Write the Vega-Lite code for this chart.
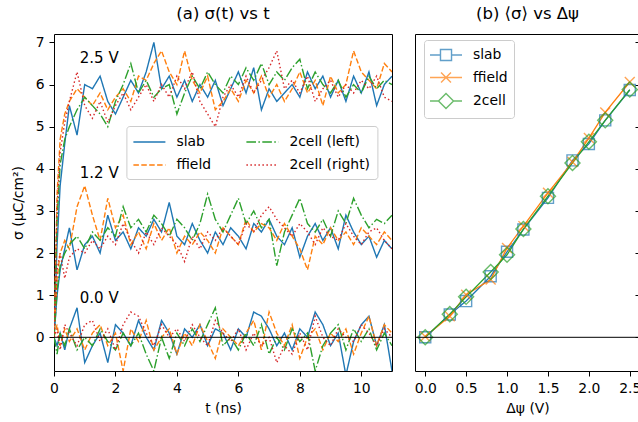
{
"$schema": "https://vega.github.io/schema/vega-lite/v6.json",
"background": "white",
"padding": {"left": 10, "top": 5, "right": 0, "bottom": 0},
"spacing": 15,
"config": {
  "font": "DejaVu Sans",
  "view": {"stroke": "black", "strokeWidth": 1},
  "axis": {"labelFont": "DejaVu Sans", "labelFontSize": 13.9, "labelColor": "black", "titleFont": "DejaVu Sans", "titleFontSize": 13.9, "titleFontWeight": "normal", "titleColor": "black", "tickColor": "black", "tickSize": 5, "tickWidth": 1, "domain": false, "grid": false, "labelPadding": 4, "labelFlush": false, "labelOverlap": false},
  "title": {"font": "DejaVu Sans", "fontSize": 16.5, "fontWeight": "normal", "color": "black", "frame": "group", "anchor": "middle", "baseline": "alphabetic", "offset": 12}
},
"resolve": {"scale": {"color": "independent", "strokeDash": "independent", "shape": "independent", "x": "independent", "y": "independent"}, "legend": {"color": "independent", "strokeDash": "independent", "shape": "independent"}},
"datasets": {
"ann": [{"t":0.84,"y":6.63,"label":"2.5 V"},{"t":0.84,"y":3.9,"label":"1.2 V"},{"t":0.84,"y":0.93,"label":"0.0 V"}],
"mean": [
{"m":"slab","x":0,"y":0.0},{"m":"slab","x":0.3,"y":0.54},{"m":"slab","x":0.5,"y":0.86},{"m":"slab","x":0.8,"y":1.45},{"m":"slab","x":1.0,"y":2.03},{"m":"slab","x":1.2,"y":2.56},{"m":"slab","x":1.5,"y":3.31},{"m":"slab","x":1.8,"y":4.2},{"m":"slab","x":2.0,"y":4.59},{"m":"slab","x":2.2,"y":5.15},{"m":"slab","x":2.5,"y":5.87},
{"m":"ffield","x":0,"y":0.02},{"m":"ffield","x":0.3,"y":0.5},{"m":"ffield","x":0.5,"y":1.01},{"m":"ffield","x":0.8,"y":1.37},{"m":"ffield","x":1.0,"y":2.12},{"m":"ffield","x":1.2,"y":2.64},{"m":"ffield","x":1.5,"y":3.43},{"m":"ffield","x":1.8,"y":4.16},{"m":"ffield","x":2.0,"y":4.73},{"m":"ffield","x":2.2,"y":5.34},{"m":"ffield","x":2.5,"y":6.06},
{"m":"2cell","x":0,"y":0.0},{"m":"2cell","x":0.3,"y":0.55},{"m":"2cell","x":0.5,"y":0.96},{"m":"2cell","x":0.8,"y":1.55},{"m":"2cell","x":1.0,"y":1.96},{"m":"2cell","x":1.2,"y":2.57},{"m":"2cell","x":1.5,"y":3.35},{"m":"2cell","x":1.8,"y":4.14},{"m":"2cell","x":2.0,"y":4.64},{"m":"2cell","x":2.2,"y":5.15},{"m":"2cell","x":2.5,"y":5.88}
],
"ts": [
{"s":"a","v":2,"t":0,"y":0},{"s":"a","v":2,"t":0.1,"y":2.2},{"s":"a","v":2,"t":0.2,"y":3.6},{"s":"a","v":2,"t":0.35,"y":4.6},{"s":"a","v":2,"t":0.5,"y":5.5},{"s":"a","v":2,"t":0.75,"y":4.8},{"s":"a","v":2,"t":1,"y":6.0},{"s":"a","v":2,"t":1.25,"y":5.9},{"s":"a","v":2,"t":1.5,"y":6.2},{"s":"a","v":2,"t":1.75,"y":5.6},{"s":"a","v":2,"t":2,"y":5.3},{"s":"a","v":2,"t":2.25,"y":5.7},{"s":"a","v":2,"t":2.5,"y":6.1},{"s":"a","v":2,"t":2.75,"y":5.8},{"s":"a","v":2,"t":3,"y":6.3},{"s":"a","v":2,"t":3.25,"y":7.0},{"s":"a","v":2,"t":3.5,"y":5.9},{"s":"a","v":2,"t":3.75,"y":6.2},{"s":"a","v":2,"t":4,"y":5.7},{"s":"a","v":2,"t":4.25,"y":6.1},{"s":"a","v":2,"t":4.5,"y":5.6},{"s":"a","v":2,"t":4.75,"y":6.0},{"s":"a","v":2,"t":5,"y":5.7},{"s":"a","v":2,"t":5.25,"y":6.1},{"s":"a","v":2,"t":5.5,"y":5.5},{"s":"a","v":2,"t":5.75,"y":5.9},{"s":"a","v":2,"t":6,"y":6.3},{"s":"a","v":2,"t":6.25,"y":5.8},{"s":"a","v":2,"t":6.5,"y":6.4},{"s":"a","v":2,"t":6.75,"y":5.4},{"s":"a","v":2,"t":7,"y":5.9},{"s":"a","v":2,"t":7.25,"y":5.6},{"s":"a","v":2,"t":7.5,"y":5.8},{"s":"a","v":2,"t":7.75,"y":6.0},{"s":"a","v":2,"t":8,"y":5.7},{"s":"a","v":2,"t":8.25,"y":6.3},{"s":"a","v":2,"t":8.5,"y":5.9},{"s":"a","v":2,"t":8.75,"y":6.2},{"s":"a","v":2,"t":9,"y":5.7},{"s":"a","v":2,"t":9.25,"y":6.1},{"s":"a","v":2,"t":9.5,"y":5.6},{"s":"a","v":2,"t":9.75,"y":6.2},{"s":"a","v":2,"t":10,"y":5.8},{"s":"a","v":2,"t":10.25,"y":6.3},{"s":"a","v":2,"t":10.5,"y":5.5},{"s":"a","v":2,"t":10.75,"y":6.0},{"s":"a","v":2,"t":11,"y":6.2},
{"s":"a","v":1,"t":0,"y":0},{"s":"a","v":1,"t":0.1,"y":1.0},{"s":"a","v":1,"t":0.2,"y":1.6},{"s":"a","v":1,"t":0.35,"y":2.1},{"s":"a","v":1,"t":0.5,"y":2.6},{"s":"a","v":1,"t":0.75,"y":1.6},{"s":"a","v":1,"t":1,"y":2.2},{"s":"a","v":1,"t":1.25,"y":2.4},{"s":"a","v":1,"t":1.5,"y":2.0},{"s":"a","v":1,"t":1.75,"y":2.9},{"s":"a","v":1,"t":2,"y":2.3},{"s":"a","v":1,"t":2.25,"y":2.5},{"s":"a","v":1,"t":2.5,"y":2.1},{"s":"a","v":1,"t":2.75,"y":2.6},{"s":"a","v":1,"t":3,"y":2.4},{"s":"a","v":1,"t":3.25,"y":2.8},{"s":"a","v":1,"t":3.5,"y":2.5},{"s":"a","v":1,"t":3.75,"y":3.2},{"s":"a","v":1,"t":4,"y":2.4},{"s":"a","v":1,"t":4.25,"y":2.2},{"s":"a","v":1,"t":4.5,"y":2.7},{"s":"a","v":1,"t":4.75,"y":2.3},{"s":"a","v":1,"t":5,"y":2.0},{"s":"a","v":1,"t":5.25,"y":2.5},{"s":"a","v":1,"t":5.5,"y":2.2},{"s":"a","v":1,"t":5.75,"y":2.6},{"s":"a","v":1,"t":6,"y":2.4},{"s":"a","v":1,"t":6.25,"y":2.1},{"s":"a","v":1,"t":6.5,"y":2.7},{"s":"a","v":1,"t":6.75,"y":2.5},{"s":"a","v":1,"t":7,"y":2.8},{"s":"a","v":1,"t":7.25,"y":2.4},{"s":"a","v":1,"t":7.5,"y":2.2},{"s":"a","v":1,"t":7.75,"y":2.6},{"s":"a","v":1,"t":8,"y":1.9},{"s":"a","v":1,"t":8.25,"y":2.4},{"s":"a","v":1,"t":8.5,"y":2.7},{"s":"a","v":1,"t":8.75,"y":2.3},{"s":"a","v":1,"t":9,"y":2.6},{"s":"a","v":1,"t":9.25,"y":2.1},{"s":"a","v":1,"t":9.5,"y":2.9},{"s":"a","v":1,"t":9.75,"y":2.5},{"s":"a","v":1,"t":10,"y":2.2},{"s":"a","v":1,"t":10.25,"y":2.4},{"s":"a","v":1,"t":10.5,"y":1.9},{"s":"a","v":1,"t":10.75,"y":2.3},{"s":"a","v":1,"t":11,"y":2.1},
{"s":"a","v":0,"t":0,"y":0},{"s":"a","v":0,"t":0.1,"y":-0.2},{"s":"a","v":0,"t":0.2,"y":0.1},{"s":"a","v":0,"t":0.35,"y":-0.3},{"s":"a","v":0,"t":0.5,"y":0.2},{"s":"a","v":0,"t":0.75,"y":0.7},{"s":"a","v":0,"t":1,"y":-0.6},{"s":"a","v":0,"t":1.25,"y":-0.2},{"s":"a","v":0,"t":1.5,"y":0.1},{"s":"a","v":0,"t":1.75,"y":-0.6},{"s":"a","v":0,"t":2,"y":0.3},{"s":"a","v":0,"t":2.25,"y":0.1},{"s":"a","v":0,"t":2.5,"y":-0.2},{"s":"a","v":0,"t":2.75,"y":0.4},{"s":"a","v":0,"t":3,"y":0.0},{"s":"a","v":0,"t":3.25,"y":-0.3},{"s":"a","v":0,"t":3.5,"y":0.4},{"s":"a","v":0,"t":3.75,"y":0.1},{"s":"a","v":0,"t":4,"y":-0.4},{"s":"a","v":0,"t":4.25,"y":0.2},{"s":"a","v":0,"t":4.5,"y":0.0},{"s":"a","v":0,"t":4.75,"y":0.3},{"s":"a","v":0,"t":5,"y":-0.2},{"s":"a","v":0,"t":5.25,"y":0.2},{"s":"a","v":0,"t":5.5,"y":0.1},{"s":"a","v":0,"t":5.75,"y":-0.3},{"s":"a","v":0,"t":6,"y":0.2},{"s":"a","v":0,"t":6.25,"y":0.0},{"s":"a","v":0,"t":6.5,"y":0.6},{"s":"a","v":0,"t":6.75,"y":0.5},{"s":"a","v":0,"t":7,"y":0.2},{"s":"a","v":0,"t":7.25,"y":-0.2},{"s":"a","v":0,"t":7.5,"y":0.1},{"s":"a","v":0,"t":7.75,"y":-0.3},{"s":"a","v":0,"t":8,"y":0.2},{"s":"a","v":0,"t":8.25,"y":0.0},{"s":"a","v":0,"t":8.5,"y":0.6},{"s":"a","v":0,"t":8.75,"y":0.3},{"s":"a","v":0,"t":9,"y":-0.2},{"s":"a","v":0,"t":9.25,"y":0.1},{"s":"a","v":0,"t":9.5,"y":-0.9},{"s":"a","v":0,"t":9.75,"y":-0.1},{"s":"a","v":0,"t":10,"y":0.3},{"s":"a","v":0,"t":10.25,"y":0.5},{"s":"a","v":0,"t":10.5,"y":-0.2},{"s":"a","v":0,"t":10.75,"y":0.3},{"s":"a","v":0,"t":11,"y":-0.8},
{"s":"c","v":2,"t":0,"y":0},{"s":"c","v":2,"t":0.1,"y":3.4},{"s":"c","v":2,"t":0.2,"y":4.7},{"s":"c","v":2,"t":0.35,"y":5.3},{"s":"c","v":2,"t":0.5,"y":5.6},{"s":"c","v":2,"t":0.75,"y":5.9},{"s":"c","v":2,"t":1,"y":5.7},{"s":"c","v":2,"t":1.25,"y":5.5},{"s":"c","v":2,"t":1.5,"y":5.8},{"s":"c","v":2,"t":1.75,"y":5.4},{"s":"c","v":2,"t":2,"y":5.7},{"s":"c","v":2,"t":2.25,"y":5.9},{"s":"c","v":2,"t":2.5,"y":5.6},{"s":"c","v":2,"t":2.75,"y":6.2},{"s":"c","v":2,"t":3,"y":6.1},{"s":"c","v":2,"t":3.25,"y":6.5},{"s":"c","v":2,"t":3.5,"y":6.8},{"s":"c","v":2,"t":3.75,"y":6.3},{"s":"c","v":2,"t":4,"y":6.0},{"s":"c","v":2,"t":4.25,"y":6.8},{"s":"c","v":2,"t":4.5,"y":6.1},{"s":"c","v":2,"t":4.75,"y":5.8},{"s":"c","v":2,"t":5,"y":6.2},{"s":"c","v":2,"t":5.25,"y":5.4},{"s":"c","v":2,"t":5.5,"y":5.6},{"s":"c","v":2,"t":5.75,"y":5.9},{"s":"c","v":2,"t":6,"y":5.6},{"s":"c","v":2,"t":6.25,"y":6.1},{"s":"c","v":2,"t":6.5,"y":5.8},{"s":"c","v":2,"t":6.75,"y":6.2},{"s":"c","v":2,"t":7,"y":5.7},{"s":"c","v":2,"t":7.25,"y":6.0},{"s":"c","v":2,"t":7.5,"y":5.6},{"s":"c","v":2,"t":7.75,"y":5.9},{"s":"c","v":2,"t":8,"y":6.3},{"s":"c","v":2,"t":8.25,"y":5.8},{"s":"c","v":2,"t":8.5,"y":6.1},{"s":"c","v":2,"t":8.75,"y":5.5},{"s":"c","v":2,"t":9,"y":6.2},{"s":"c","v":2,"t":9.25,"y":5.8},{"s":"c","v":2,"t":9.5,"y":6.0},{"s":"c","v":2,"t":9.75,"y":6.8},{"s":"c","v":2,"t":10,"y":6.3},{"s":"c","v":2,"t":10.25,"y":6.1},{"s":"c","v":2,"t":10.5,"y":5.9},{"s":"c","v":2,"t":10.75,"y":6.5},{"s":"c","v":2,"t":11,"y":6.3},
{"s":"c","v":1,"t":0,"y":0},{"s":"c","v":1,"t":0.1,"y":1.4},{"s":"c","v":1,"t":0.2,"y":2.0},{"s":"c","v":1,"t":0.35,"y":2.3},{"s":"c","v":1,"t":0.5,"y":2.1},{"s":"c","v":1,"t":0.75,"y":3.1},{"s":"c","v":1,"t":1,"y":3.6},{"s":"c","v":1,"t":1.25,"y":2.9},{"s":"c","v":1,"t":1.5,"y":2.3},{"s":"c","v":1,"t":1.75,"y":3.3},{"s":"c","v":1,"t":2,"y":2.6},{"s":"c","v":1,"t":2.25,"y":2.9},{"s":"c","v":1,"t":2.5,"y":2.2},{"s":"c","v":1,"t":2.75,"y":2.5},{"s":"c","v":1,"t":3,"y":2.1},{"s":"c","v":1,"t":3.25,"y":2.7},{"s":"c","v":1,"t":3.5,"y":2.3},{"s":"c","v":1,"t":3.75,"y":2.6},{"s":"c","v":1,"t":4,"y":2.0},{"s":"c","v":1,"t":4.25,"y":2.4},{"s":"c","v":1,"t":4.5,"y":2.2},{"s":"c","v":1,"t":4.75,"y":2.5},{"s":"c","v":1,"t":5,"y":2.3},{"s":"c","v":1,"t":5.25,"y":2.0},{"s":"c","v":1,"t":5.5,"y":2.6},{"s":"c","v":1,"t":5.75,"y":2.4},{"s":"c","v":1,"t":6,"y":2.2},{"s":"c","v":1,"t":6.25,"y":2.8},{"s":"c","v":1,"t":6.5,"y":2.5},{"s":"c","v":1,"t":6.75,"y":2.7},{"s":"c","v":1,"t":7,"y":2.6},{"s":"c","v":1,"t":7.25,"y":2.3},{"s":"c","v":1,"t":7.5,"y":2.7},{"s":"c","v":1,"t":7.75,"y":2.4},{"s":"c","v":1,"t":8,"y":2.1},{"s":"c","v":1,"t":8.25,"y":1.6},{"s":"c","v":1,"t":8.5,"y":2.4},{"s":"c","v":1,"t":8.75,"y":2.2},{"s":"c","v":1,"t":9,"y":2.6},{"s":"c","v":1,"t":9.25,"y":2.3},{"s":"c","v":1,"t":9.5,"y":2.5},{"s":"c","v":1,"t":9.75,"y":2.2},{"s":"c","v":1,"t":10,"y":2.6},{"s":"c","v":1,"t":10.25,"y":2.4},{"s":"c","v":1,"t":10.5,"y":2.2},{"s":"c","v":1,"t":10.75,"y":2.5},{"s":"c","v":1,"t":11,"y":2.3},
{"s":"c","v":0,"t":0,"y":0},{"s":"c","v":0,"t":0.1,"y":0.3},{"s":"c","v":0,"t":0.2,"y":-0.2},{"s":"c","v":0,"t":0.35,"y":0.2},{"s":"c","v":0,"t":0.5,"y":-0.1},{"s":"c","v":0,"t":0.75,"y":0.2},{"s":"c","v":0,"t":1,"y":-0.3},{"s":"c","v":0,"t":1.25,"y":0.1},{"s":"c","v":0,"t":1.5,"y":0.3},{"s":"c","v":0,"t":1.75,"y":-0.2},{"s":"c","v":0,"t":2,"y":0.1},{"s":"c","v":0,"t":2.25,"y":-0.8},{"s":"c","v":0,"t":2.5,"y":0.2},{"s":"c","v":0,"t":2.75,"y":-0.1},{"s":"c","v":0,"t":3,"y":0.4},{"s":"c","v":0,"t":3.25,"y":-0.3},{"s":"c","v":0,"t":3.5,"y":0.0},{"s":"c","v":0,"t":3.75,"y":0.2},{"s":"c","v":0,"t":4,"y":-0.4},{"s":"c","v":0,"t":4.25,"y":0.1},{"s":"c","v":0,"t":4.5,"y":-0.2},{"s":"c","v":0,"t":4.75,"y":0.3},{"s":"c","v":0,"t":5,"y":-0.1},{"s":"c","v":0,"t":5.25,"y":-0.5},{"s":"c","v":0,"t":5.5,"y":0.2},{"s":"c","v":0,"t":5.75,"y":0.0},{"s":"c","v":0,"t":6,"y":-0.2},{"s":"c","v":0,"t":6.25,"y":0.1},{"s":"c","v":0,"t":6.5,"y":0.4},{"s":"c","v":0,"t":6.75,"y":-0.3},{"s":"c","v":0,"t":7,"y":0.6},{"s":"c","v":0,"t":7.25,"y":0.1},{"s":"c","v":0,"t":7.5,"y":-0.2},{"s":"c","v":0,"t":7.75,"y":0.3},{"s":"c","v":0,"t":8,"y":-0.5},{"s":"c","v":0,"t":8.25,"y":0.0},{"s":"c","v":0,"t":8.5,"y":0.2},{"s":"c","v":0,"t":8.75,"y":-0.3},{"s":"c","v":0,"t":9,"y":0.1},{"s":"c","v":0,"t":9.25,"y":-0.1},{"s":"c","v":0,"t":9.5,"y":0.2},{"s":"c","v":0,"t":9.75,"y":-0.4},{"s":"c","v":0,"t":10,"y":0.1},{"s":"c","v":0,"t":10.25,"y":0.5},{"s":"c","v":0,"t":10.5,"y":-0.2},{"s":"c","v":0,"t":10.75,"y":0.3},{"s":"c","v":0,"t":11,"y":0.1},
{"s":"b","v":2,"t":0,"y":0},{"s":"b","v":2,"t":0.1,"y":2.8},{"s":"b","v":2,"t":0.2,"y":4.1},{"s":"b","v":2,"t":0.35,"y":4.7},{"s":"b","v":2,"t":0.5,"y":5.0},{"s":"b","v":2,"t":0.75,"y":5.4},{"s":"b","v":2,"t":1,"y":5.7},{"s":"b","v":2,"t":1.25,"y":5.5},{"s":"b","v":2,"t":1.5,"y":5.3},{"s":"b","v":2,"t":1.75,"y":5.0},{"s":"b","v":2,"t":2,"y":5.6},{"s":"b","v":2,"t":2.25,"y":6.0},{"s":"b","v":2,"t":2.5,"y":6.5},{"s":"b","v":2,"t":2.75,"y":5.8},{"s":"b","v":2,"t":3,"y":6.1},{"s":"b","v":2,"t":3.25,"y":5.7},{"s":"b","v":2,"t":3.5,"y":5.9},{"s":"b","v":2,"t":3.75,"y":6.0},{"s":"b","v":2,"t":4,"y":5.3},{"s":"b","v":2,"t":4.25,"y":5.8},{"s":"b","v":2,"t":4.5,"y":6.2},{"s":"b","v":2,"t":4.75,"y":5.9},{"s":"b","v":2,"t":5,"y":6.3},{"s":"b","v":2,"t":5.25,"y":6.0},{"s":"b","v":2,"t":5.5,"y":5.8},{"s":"b","v":2,"t":5.75,"y":6.2},{"s":"b","v":2,"t":6,"y":6.0},{"s":"b","v":2,"t":6.25,"y":6.4},{"s":"b","v":2,"t":6.5,"y":6.1},{"s":"b","v":2,"t":6.75,"y":6.5},{"s":"b","v":2,"t":7,"y":6.0},{"s":"b","v":2,"t":7.25,"y":6.3},{"s":"b","v":2,"t":7.5,"y":6.1},{"s":"b","v":2,"t":7.75,"y":6.4},{"s":"b","v":2,"t":8,"y":6.6},{"s":"b","v":2,"t":8.25,"y":5.9},{"s":"b","v":2,"t":8.5,"y":6.3},{"s":"b","v":2,"t":8.75,"y":6.0},{"s":"b","v":2,"t":9,"y":5.8},{"s":"b","v":2,"t":9.25,"y":6.1},{"s":"b","v":2,"t":9.5,"y":5.7},{"s":"b","v":2,"t":9.75,"y":6.0},{"s":"b","v":2,"t":10,"y":5.8},{"s":"b","v":2,"t":10.25,"y":6.2},{"s":"b","v":2,"t":10.5,"y":5.9},{"s":"b","v":2,"t":10.75,"y":6.1},{"s":"b","v":2,"t":11,"y":6.0},
{"s":"b","v":1,"t":0,"y":0},{"s":"b","v":1,"t":0.1,"y":1.1},{"s":"b","v":1,"t":0.2,"y":1.7},{"s":"b","v":1,"t":0.35,"y":2.0},{"s":"b","v":1,"t":0.5,"y":2.2},{"s":"b","v":1,"t":0.75,"y":2.4},{"s":"b","v":1,"t":1,"y":2.1},{"s":"b","v":1,"t":1.25,"y":2.5},{"s":"b","v":1,"t":1.5,"y":2.3},{"s":"b","v":1,"t":1.75,"y":2.6},{"s":"b","v":1,"t":2,"y":2.4},{"s":"b","v":1,"t":2.25,"y":3.1},{"s":"b","v":1,"t":2.5,"y":2.6},{"s":"b","v":1,"t":2.75,"y":2.8},{"s":"b","v":1,"t":3,"y":2.5},{"s":"b","v":1,"t":3.25,"y":2.9},{"s":"b","v":1,"t":3.5,"y":2.7},{"s":"b","v":1,"t":3.75,"y":2.4},{"s":"b","v":1,"t":4,"y":2.8},{"s":"b","v":1,"t":4.25,"y":2.6},{"s":"b","v":1,"t":4.5,"y":2.3},{"s":"b","v":1,"t":4.75,"y":2.7},{"s":"b","v":1,"t":5,"y":3.4},{"s":"b","v":1,"t":5.25,"y":2.8},{"s":"b","v":1,"t":5.5,"y":2.5},{"s":"b","v":1,"t":5.75,"y":2.9},{"s":"b","v":1,"t":6,"y":3.3},{"s":"b","v":1,"t":6.25,"y":2.7},{"s":"b","v":1,"t":6.5,"y":3.0},{"s":"b","v":1,"t":6.75,"y":2.6},{"s":"b","v":1,"t":7,"y":2.8},{"s":"b","v":1,"t":7.25,"y":1.7},{"s":"b","v":1,"t":7.5,"y":2.5},{"s":"b","v":1,"t":7.75,"y":2.9},{"s":"b","v":1,"t":8,"y":3.3},{"s":"b","v":1,"t":8.25,"y":2.7},{"s":"b","v":1,"t":8.5,"y":2.5},{"s":"b","v":1,"t":8.75,"y":2.8},{"s":"b","v":1,"t":9,"y":2.4},{"s":"b","v":1,"t":9.25,"y":3.0},{"s":"b","v":1,"t":9.5,"y":2.7},{"s":"b","v":1,"t":9.75,"y":3.3},{"s":"b","v":1,"t":10,"y":2.9},{"s":"b","v":1,"t":10.25,"y":2.6},{"s":"b","v":1,"t":10.5,"y":2.8},{"s":"b","v":1,"t":10.75,"y":2.7},{"s":"b","v":1,"t":11,"y":2.9},
{"s":"b","v":0,"t":0,"y":0},{"s":"b","v":0,"t":0.1,"y":-0.4},{"s":"b","v":0,"t":0.2,"y":0.1},{"s":"b","v":0,"t":0.35,"y":-0.2},{"s":"b","v":0,"t":0.5,"y":0.2},{"s":"b","v":0,"t":0.75,"y":-0.3},{"s":"b","v":0,"t":1,"y":0.0},{"s":"b","v":0,"t":1.25,"y":-0.2},{"s":"b","v":0,"t":1.5,"y":0.2},{"s":"b","v":0,"t":1.75,"y":-0.1},{"s":"b","v":0,"t":2,"y":-0.3},{"s":"b","v":0,"t":2.25,"y":0.1},{"s":"b","v":0,"t":2.5,"y":-0.2},{"s":"b","v":0,"t":2.75,"y":0.1},{"s":"b","v":0,"t":3,"y":-0.4},{"s":"b","v":0,"t":3.25,"y":-0.8},{"s":"b","v":0,"t":3.5,"y":0.0},{"s":"b","v":0,"t":3.75,"y":-0.5},{"s":"b","v":0,"t":4,"y":0.1},{"s":"b","v":0,"t":4.25,"y":-0.2},{"s":"b","v":0,"t":4.5,"y":0.2},{"s":"b","v":0,"t":4.75,"y":-0.1},{"s":"b","v":0,"t":5,"y":0.3},{"s":"b","v":0,"t":5.25,"y":0.7},{"s":"b","v":0,"t":5.5,"y":-0.2},{"s":"b","v":0,"t":5.75,"y":0.0},{"s":"b","v":0,"t":6,"y":-0.3},{"s":"b","v":0,"t":6.25,"y":0.1},{"s":"b","v":0,"t":6.5,"y":-0.2},{"s":"b","v":0,"t":6.75,"y":0.3},{"s":"b","v":0,"t":7,"y":-0.4},{"s":"b","v":0,"t":7.25,"y":0.0},{"s":"b","v":0,"t":7.5,"y":-0.3},{"s":"b","v":0,"t":7.75,"y":0.2},{"s":"b","v":0,"t":8,"y":-0.1},{"s":"b","v":0,"t":8.25,"y":0.1},{"s":"b","v":0,"t":8.5,"y":-0.8},{"s":"b","v":0,"t":8.75,"y":-0.2},{"s":"b","v":0,"t":9,"y":0.1},{"s":"b","v":0,"t":9.25,"y":0.3},{"s":"b","v":0,"t":9.5,"y":-0.3},{"s":"b","v":0,"t":9.75,"y":0.2},{"s":"b","v":0,"t":10,"y":-0.1},{"s":"b","v":0,"t":10.25,"y":0.2},{"s":"b","v":0,"t":10.5,"y":-0.3},{"s":"b","v":0,"t":10.75,"y":0.1},{"s":"b","v":0,"t":11,"y":-0.2},
{"s":"d","v":2,"t":0,"y":0},{"s":"d","v":2,"t":0.1,"y":3.1},{"s":"d","v":2,"t":0.2,"y":4.4},{"s":"d","v":2,"t":0.35,"y":5.1},{"s":"d","v":2,"t":0.5,"y":5.6},{"s":"d","v":2,"t":0.75,"y":6.3},{"s":"d","v":2,"t":1,"y":5.5},{"s":"d","v":2,"t":1.25,"y":5.2},{"s":"d","v":2,"t":1.5,"y":5.6},{"s":"d","v":2,"t":1.75,"y":5.1},{"s":"d","v":2,"t":2,"y":5.5},{"s":"d","v":2,"t":2.25,"y":5.8},{"s":"d","v":2,"t":2.5,"y":5.4},{"s":"d","v":2,"t":2.75,"y":5.7},{"s":"d","v":2,"t":3,"y":6.0},{"s":"d","v":2,"t":3.25,"y":5.6},{"s":"d","v":2,"t":3.5,"y":6.0},{"s":"d","v":2,"t":3.75,"y":5.7},{"s":"d","v":2,"t":4,"y":6.2},{"s":"d","v":2,"t":4.25,"y":5.9},{"s":"d","v":2,"t":4.5,"y":6.3},{"s":"d","v":2,"t":4.75,"y":5.6},{"s":"d","v":2,"t":5,"y":5.3},{"s":"d","v":2,"t":5.25,"y":5.0},{"s":"d","v":2,"t":5.5,"y":5.7},{"s":"d","v":2,"t":5.75,"y":6.0},{"s":"d","v":2,"t":6,"y":5.7},{"s":"d","v":2,"t":6.25,"y":6.2},{"s":"d","v":2,"t":6.5,"y":5.8},{"s":"d","v":2,"t":6.75,"y":6.1},{"s":"d","v":2,"t":7,"y":6.4},{"s":"d","v":2,"t":7.25,"y":6.8},{"s":"d","v":2,"t":7.5,"y":5.9},{"s":"d","v":2,"t":7.75,"y":6.1},{"s":"d","v":2,"t":8,"y":5.8},{"s":"d","v":2,"t":8.25,"y":6.2},{"s":"d","v":2,"t":8.5,"y":5.6},{"s":"d","v":2,"t":8.75,"y":5.9},{"s":"d","v":2,"t":9,"y":6.1},{"s":"d","v":2,"t":9.25,"y":5.7},{"s":"d","v":2,"t":9.5,"y":6.0},{"s":"d","v":2,"t":9.75,"y":5.8},{"s":"d","v":2,"t":10,"y":6.1},{"s":"d","v":2,"t":10.25,"y":5.9},{"s":"d","v":2,"t":10.5,"y":6.2},{"s":"d","v":2,"t":10.75,"y":5.7},{"s":"d","v":2,"t":11,"y":5.6},
{"s":"d","v":1,"t":0,"y":0},{"s":"d","v":1,"t":0.1,"y":1.6},{"s":"d","v":1,"t":0.2,"y":2.0},{"s":"d","v":1,"t":0.35,"y":1.4},{"s":"d","v":1,"t":0.5,"y":1.9},{"s":"d","v":1,"t":0.75,"y":2.1},{"s":"d","v":1,"t":1,"y":2.0},{"s":"d","v":1,"t":1.25,"y":2.3},{"s":"d","v":1,"t":1.5,"y":2.1},{"s":"d","v":1,"t":1.75,"y":2.4},{"s":"d","v":1,"t":2,"y":2.2},{"s":"d","v":1,"t":2.25,"y":2.7},{"s":"d","v":1,"t":2.5,"y":2.3},{"s":"d","v":1,"t":2.75,"y":2.0},{"s":"d","v":1,"t":3,"y":2.5},{"s":"d","v":1,"t":3.25,"y":2.2},{"s":"d","v":1,"t":3.5,"y":2.6},{"s":"d","v":1,"t":3.75,"y":2.4},{"s":"d","v":1,"t":4,"y":2.2},{"s":"d","v":1,"t":4.25,"y":1.8},{"s":"d","v":1,"t":4.5,"y":2.4},{"s":"d","v":1,"t":4.75,"y":2.1},{"s":"d","v":1,"t":5,"y":2.5},{"s":"d","v":1,"t":5.25,"y":2.3},{"s":"d","v":1,"t":5.5,"y":2.6},{"s":"d","v":1,"t":5.75,"y":2.4},{"s":"d","v":1,"t":6,"y":2.2},{"s":"d","v":1,"t":6.25,"y":2.7},{"s":"d","v":1,"t":6.5,"y":2.5},{"s":"d","v":1,"t":6.75,"y":2.9},{"s":"d","v":1,"t":7,"y":3.1},{"s":"d","v":1,"t":7.25,"y":2.8},{"s":"d","v":1,"t":7.5,"y":2.6},{"s":"d","v":1,"t":7.75,"y":2.4},{"s":"d","v":1,"t":8,"y":2.7},{"s":"d","v":1,"t":8.25,"y":2.5},{"s":"d","v":1,"t":8.5,"y":2.2},{"s":"d","v":1,"t":8.75,"y":2.6},{"s":"d","v":1,"t":9,"y":2.4},{"s":"d","v":1,"t":9.25,"y":2.3},{"s":"d","v":1,"t":9.5,"y":2.7},{"s":"d","v":1,"t":9.75,"y":2.4},{"s":"d","v":1,"t":10,"y":2.2},{"s":"d","v":1,"t":10.25,"y":2.5},{"s":"d","v":1,"t":10.5,"y":2.6},{"s":"d","v":1,"t":10.75,"y":2.3},{"s":"d","v":1,"t":11,"y":2.1},
{"s":"d","v":0,"t":0,"y":0},{"s":"d","v":0,"t":0.1,"y":0.2},{"s":"d","v":0,"t":0.2,"y":-0.3},{"s":"d","v":0,"t":0.35,"y":0.3},{"s":"d","v":0,"t":0.5,"y":0.1},{"s":"d","v":0,"t":0.75,"y":-0.2},{"s":"d","v":0,"t":1,"y":0.3},{"s":"d","v":0,"t":1.25,"y":0.4},{"s":"d","v":0,"t":1.5,"y":-0.1},{"s":"d","v":0,"t":1.75,"y":0.2},{"s":"d","v":0,"t":2,"y":-0.3},{"s":"d","v":0,"t":2.25,"y":0.3},{"s":"d","v":0,"t":2.5,"y":0.6},{"s":"d","v":0,"t":2.75,"y":0.5},{"s":"d","v":0,"t":3,"y":0.1},{"s":"d","v":0,"t":3.25,"y":-0.2},{"s":"d","v":0,"t":3.5,"y":0.3},{"s":"d","v":0,"t":3.75,"y":0.0},{"s":"d","v":0,"t":4,"y":0.2},{"s":"d","v":0,"t":4.25,"y":-0.1},{"s":"d","v":0,"t":4.5,"y":0.3},{"s":"d","v":0,"t":4.75,"y":0.0},{"s":"d","v":0,"t":5,"y":-0.2},{"s":"d","v":0,"t":5.25,"y":0.4},{"s":"d","v":0,"t":5.5,"y":0.1},{"s":"d","v":0,"t":5.75,"y":-0.1},{"s":"d","v":0,"t":6,"y":0.2},{"s":"d","v":0,"t":6.25,"y":-0.3},{"s":"d","v":0,"t":6.5,"y":0.1},{"s":"d","v":0,"t":6.75,"y":-0.2},{"s":"d","v":0,"t":7,"y":0.0},{"s":"d","v":0,"t":7.25,"y":-0.6},{"s":"d","v":0,"t":7.5,"y":-0.2},{"s":"d","v":0,"t":7.75,"y":-0.4},{"s":"d","v":0,"t":8,"y":0.1},{"s":"d","v":0,"t":8.25,"y":-0.3},{"s":"d","v":0,"t":8.5,"y":0.5},{"s":"d","v":0,"t":8.75,"y":0.0},{"s":"d","v":0,"t":9,"y":-0.2},{"s":"d","v":0,"t":9.25,"y":0.2},{"s":"d","v":0,"t":9.5,"y":0.0},{"s":"d","v":0,"t":9.75,"y":-0.1},{"s":"d","v":0,"t":10,"y":0.3},{"s":"d","v":0,"t":10.25,"y":0.1},{"s":"d","v":0,"t":10.5,"y":-0.2},{"s":"d","v":0,"t":10.75,"y":0.2},{"s":"d","v":0,"t":11,"y":0.0}
]
},
"hconcat": [
{
  "width": 338, "height": 337,
  "title": {"text": "(a) σ(t) vs t"},
  "layer": [
    {"data": {"name": "ts"},
     "mark": {"type": "line", "strokeWidth": 1.4, "clip": true},
     "encoding": {
       "x": {"field": "t", "type": "quantitative", "scale": {"domain": [0, 11], "nice": false, "zero": false}, "axis": {"values": [0,2,4,6,8,10], "title": "t (ns)", "titlePadding": 7, "labelPadding": 5}},
       "y": {"field": "y", "type": "quantitative", "scale": {"domain": [-0.8, 7.2], "nice": false, "zero": false}, "axis": {"values": [0,1,2,3,4,5,6,7], "title": "σ (μC/cm²)", "titlePadding": 10, "labelPadding": 5}},
       "color": {"field": "s", "type": "nominal", "scale": {"domain": ["a","c","b","d"], "range": ["#1f77b4","#ff7f0e","#2ca02c","#d62728"]},
         "legend": {"title": null, "orient": "none", "legendX": 72.4, "legendY": 92, "columns": 2, "columnPadding": 32, "rowPadding": 7, "symbolType": "M-2,0H2", "symbolSize": 256, "symbolStrokeWidth": 1.5, "symbolOffset": 7, "labelOffset": 18, "labelFontSize": 13.9, "labelFont": "DejaVu Sans", "labelColor": "black", "fillColor": "white", "strokeColor": "#cccccc", "cornerRadius": 3, "padding": 7,
           "labelExpr": "datum.label=='a'?'slab':datum.label=='b'?'2cell (left)':datum.label=='c'?'ffield':'2cell (right)'"}},
       "strokeDash": {"field": "s", "type": "nominal", "scale": {"domain": ["a","c","b","d"], "range": [[1,0],[5.5,2.4],[9.6,2.4,1.5,2.4],[1.5,2.5]]},
         "legend": {"title": null, "orient": "none", "legendX": 72.4, "legendY": 92, "columns": 2, "columnPadding": 32, "rowPadding": 7, "symbolType": "M-2,0H2", "symbolSize": 256, "symbolStrokeWidth": 1.5, "symbolOffset": 7, "labelOffset": 18, "labelFontSize": 13.9, "labelFont": "DejaVu Sans", "labelColor": "black", "fillColor": "white", "strokeColor": "#cccccc", "cornerRadius": 3, "padding": 7,
           "labelExpr": "datum.label=='a'?'slab':datum.label=='b'?'2cell (left)':datum.label=='c'?'ffield':'2cell (right)'"}},
       "detail": {"field": "v", "type": "nominal"}
     }},
    {"data": {"name": "ann"},
     "mark": {"type": "text", "align": "left", "baseline": "middle", "fontSize": 15, "font": "DejaVu Sans", "color": "black"},
     "encoding": {
       "x": {"field": "t", "type": "quantitative", "title": "t (ns)"},
       "y": {"field": "y", "type": "quantitative", "title": "σ (μC/cm²)"},
       "text": {"field": "label"}
     }},
    {"data": {"values": [{}]},
     "mark": {"type": "rule", "color": "black", "strokeWidth": 1},
     "encoding": {"y": {"datum": 0}}}
  ]
},
{
  "width": 225, "height": 337,
  "title": {"text": "(b) ⟨σ⟩ vs Δψ"},
  "layer": [
    {"data": {"name": "mean"},
     "mark": {"type": "line", "strokeWidth": 1.3},
     "encoding": {
       "x": {"field": "x", "type": "quantitative", "scale": {"domain": [-0.125, 2.625], "nice": false, "zero": false}, "axis": {"values": [0,0.5,1,1.5,2,2.5], "format": ".1f", "title": "Δψ (V)", "titlePadding": 7, "labelPadding": 5}},
       "y": {"field": "y", "type": "quantitative", "scale": {"domain": [-0.8, 7.2], "nice": false, "zero": false}, "axis": {"orient": "right", "labels": false, "values": [0,1,2,3,4,5,6,7], "title": null, "tickSize": -5}},
       "color": {"field": "m", "type": "nominal", "scale": {"domain": ["slab","ffield","2cell"], "range": ["#1f77b4","#ff7f0e","#2ca02c"]}}
     }},
    {"data": {"name": "mean"},
     "transform": [{"filter": "datum.m == 'slab'"}],
     "mark": {"type": "point", "shape": "M-0.69,-0.69H0.69V0.69H-0.69Z", "filled": false, "size": 256, "strokeWidth": 1.4},
     "encoding": {"x": {"field": "x", "type": "quantitative"}, "y": {"field": "y", "type": "quantitative"}, "color": {"field": "m", "type": "nominal"}}},
    {"data": {"name": "mean"},
     "transform": [{"filter": "datum.m == 'ffield'"}],
     "mark": {"type": "point", "shape": "M-0.62,-0.62L0.62,0.62M-0.62,0.62L0.62,-0.62", "filled": false, "size": 256, "strokeWidth": 1.4},
     "encoding": {"x": {"field": "x", "type": "quantitative"}, "y": {"field": "y", "type": "quantitative"}, "color": {"field": "m", "type": "nominal"}}},
    {"data": {"name": "mean"},
     "transform": [{"filter": "datum.m == '2cell'"}],
     "mark": {"type": "point", "shape": "M-0.94,0L0,-0.94L0.94,0L0,0.94Z", "filled": false, "size": 256, "strokeWidth": 1.4},
     "encoding": {"x": {"field": "x", "type": "quantitative"}, "y": {"field": "y", "type": "quantitative"}, "color": {"field": "m", "type": "nominal"}}},
    {"data": {"name": "mean"},
     "mark": {"type": "point", "filled": false, "size": 256, "strokeWidth": 1.4, "opacity": 0},
     "encoding": {
       "x": {"field": "x", "type": "quantitative"},
       "y": {"field": "y", "type": "quantitative"},
       "color": {"field": "m", "type": "nominal",
         "legend": {"title": null, "orient": "none", "legendX": 9, "legendY": 6, "rowPadding": 4.5, "symbolSize": 256, "symbolStrokeWidth": 1.4, "symbolOpacity": 1, "symbolOffset": 7, "labelOffset": 18, "labelFontSize": 13.9, "labelFont": "DejaVu Sans", "labelColor": "black", "fillColor": "white", "strokeColor": "#cccccc", "cornerRadius": 3, "padding": 6}},
       "shape": {"field": "m", "type": "nominal", "scale": {"domain": ["slab","ffield","2cell"], "range": ["M-2,0H-0.69M0.69,0H2M-0.69,-0.69H0.69V0.69H-0.69Z","M-2,0H2M-0.62,-0.62L0.62,0.62M-0.62,0.62L0.62,-0.62","M-2,0H-0.94M0.94,0H2M-0.94,0L0,-0.94L0.94,0L0,0.94Z"]},
         "legend": {"title": null, "orient": "none", "legendX": 9, "legendY": 6, "rowPadding": 4.5, "symbolSize": 256, "symbolStrokeWidth": 1.4, "symbolOpacity": 1, "symbolOffset": 7, "labelOffset": 18, "labelFontSize": 13.9, "labelFont": "DejaVu Sans", "labelColor": "black", "fillColor": "white", "strokeColor": "#cccccc", "cornerRadius": 3, "padding": 6}}
     }},
    {"data": {"values": [{}]},
     "mark": {"type": "rule", "color": "black", "strokeWidth": 1},
     "encoding": {"y": {"datum": 0}}}
  ]
}
]
}
